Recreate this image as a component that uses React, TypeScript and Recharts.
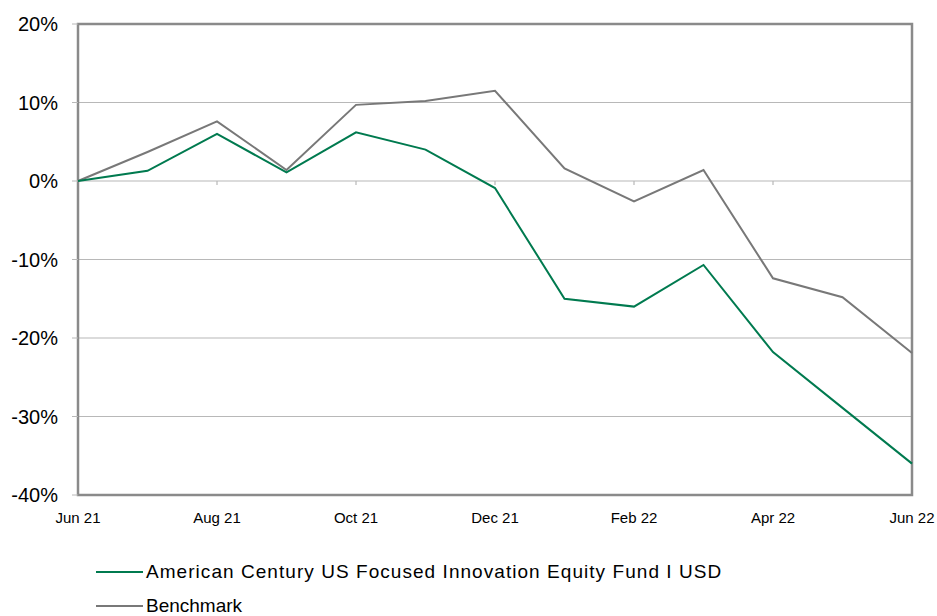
import React from 'react';
import {
  LineChart,
  Line,
  XAxis,
  YAxis,
  CartesianGrid,
  ReferenceLine,
  ReferenceArea
} from 'recharts';

const months = [
  'Jun 21', 'Jul 21', 'Aug 21', 'Sep 21', 'Oct 21', 'Nov 21', 'Dec 21',
  'Jan 22', 'Feb 22', 'Mar 22', 'Apr 22', 'May 22', 'Jun 22'
];
const fundValues = [0, 1.3, 6.0, 1.1, 6.2, 4.0, -0.9, -15.0, -16.0, -10.7, -21.8, -28.9, -36.0];
const benchmarkValues = [0, 3.7, 7.6, 1.4, 9.7, 10.2, 11.5, 1.6, -2.6, 1.4, -12.4, -14.8, -21.9];
const tickLabels = ['Jun 21', 'Aug 21', 'Oct 21', 'Dec 21', 'Feb 22', 'Apr 22', 'Jun 22'];
const yTicks = [-40, -30, -20, -10, 0, 10, 20];
const fundName = 'American Century US Focused Innovation Equity Fund I USD';
const benchmarkName = 'Benchmark';

const GREEN = '#007a4f';
const GREY = '#787878';

const data = months.map((m, i) => ({
  month: m,
  fund: fundValues[i],
  benchmark: benchmarkValues[i]
}));

// little tick marks hanging under the zero line
const zeroTicks = tickLabels.slice(1, -1);

const legendItems = [
  { name: fundName, color: GREEN, spacing: 1.05 },
  { name: benchmarkName, color: GREY, spacing: 0 }
];

const App: React.FC = () => {
  return (
    <div style={{ position: 'relative', width: 937, height: 616, overflow: 'hidden', fontFamily: '"Liberation Sans", Arial, sans-serif' }}>
      <style>{'body { margin: 0; }'}</style>
      <LineChart
        width={937}
        height={616}
        data={data}
        margin={{ top: 24, right: 25, left: 8, bottom: 91 }}
      >
        <CartesianGrid vertical={false} stroke="#b8b8b8" strokeWidth={1.2} />
        <XAxis
          dataKey="month"
          ticks={tickLabels}
          interval={0}
          axisLine={false}
          tickLine={false}
          height={30}
          tickMargin={11}
          tick={{ fill: '#000', fontSize: 15, fontFamily: '"Liberation Sans", Arial' }}
        />
        <YAxis
          width={70}
          domain={[-40, 20]}
          ticks={yTicks}
          interval={0}
          axisLine={false}
          tickSize={6}
          tickMargin={14}
          tickLine={{ stroke: '#b8b8b8' }}
          tickFormatter={(v: number) => `${v}%`}
          tick={{ fill: '#000', fontSize: 20, fontFamily: '"Liberation Sans", Arial' }}
        />
        {zeroTicks.map(m => (
          <ReferenceLine
            key={m}
            segment={[{ x: m, y: 0 }, { x: m, y: -0.5 }]}
            stroke="#b8b8b8"
            strokeWidth={1.2}
          />
        ))}
        <ReferenceArea
          x1={months[0]}
          x2={months[months.length - 1]}
          y1={-40}
          y2={20}
          fill="none"
          fillOpacity={0}
          stroke="#8a8a8a"
          strokeWidth={2.5}
        />
        <Line
          type="linear"
          dataKey="benchmark"
          stroke={GREY}
          strokeWidth={2}
          dot={false}
          activeDot={false}
          isAnimationActive={false}
        />
        <Line
          type="linear"
          dataKey="fund"
          stroke={GREEN}
          strokeWidth={2}
          dot={false}
          activeDot={false}
          isAnimationActive={false}
        />
      </LineChart>
      <div style={{ position: 'absolute', left: 96, top: 555 }}>
        {legendItems.map(item => (
          <div key={item.name} style={{ display: 'flex', alignItems: 'center', height: 34 }}>
            <div style={{ width: 47, height: 2, background: item.color, marginRight: 3 }} />
            <span style={{ fontSize: 19, color: '#000', letterSpacing: item.spacing, lineHeight: '22px' }}>{item.name}</span>
          </div>
        ))}
      </div>
    </div>
  );
};

export default App;
